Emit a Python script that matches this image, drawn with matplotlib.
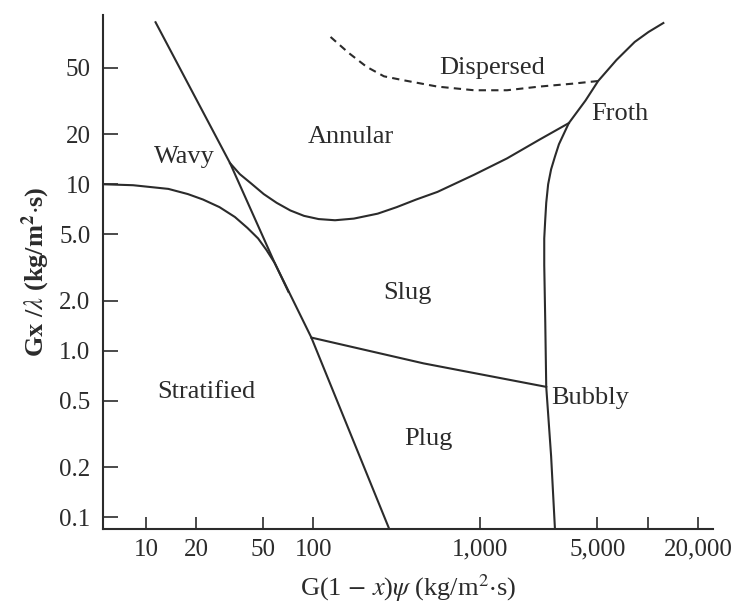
import matplotlib
matplotlib.use("Agg")
import matplotlib.pyplot as plt

plt.rcParams['font.family'] = ['Liberation Serif', 'DejaVu Serif']
plt.rcParams['mathtext.fontset'] = 'stix'

# boundary curves (x = G(1-x)psi, y = Gx/lambda)
steep_x = [11.4, 31.8, 58.9, 97.5, 285]
steep_y = [94, 13.4, 3.36, 1.20, 0.085]

strat_x = [5.53, 8.36, 13.6, 17.8, 21.9, 27.5, 34.0, 40.4, 46.8, 52.6, 58.9, 71.1]
strat_y = [10.0, 9.87, 9.38, 8.73, 8.10, 7.29, 6.36, 5.47, 4.73, 4.02, 3.36, 2.26]

annular_x = [31.8, 36.4, 42.6, 50.6, 60.4, 73.0, 88.1, 107.7, 135, 175, 243,
             316, 412, 554, 916, 1443, 2249, 3381]
annular_y = [13.4, 11.5, 10.1, 8.73, 7.74, 6.96, 6.46, 6.18, 6.08, 6.22, 6.66,
             7.29, 8.09, 9.0, 11.4, 14.3, 18.5, 23.3]

froth_x = [12430, 10140, 8380, 6520, 5063, 4251, 3381, 2951, 2795, 2649, 2543,
           2477, 2442, 2410, 2410, 2444, 2477, 2649, 2793]
froth_y = [93.0, 82.2, 71.6, 55.8, 41.7, 31.8, 23.3, 17.4, 14.7, 12.3, 10.0,
           7.74, 6.08, 4.73, 3.27, 1.486, 0.607, 0.233, 0.085]

disp_x = [127, 163, 209, 265, 340, 554, 916, 1443, 2249, 3565, 5063]
disp_y = [76.7, 61.5, 50.7, 44.5, 42.3, 38.6, 36.7, 36.7, 38.6, 40.2, 41.7]

plug_x = [97.5, 457, 2477]
plug_y = [1.20, 0.84, 0.607]

regions = ["Dispersed", "Froth", "Annular", "Wavy", "Slug", "Stratified", "Plug", "Bubbly"]
region_x = [1180, 6860, 168, 17.0, 367, 22.9, 492, 4550]
region_y = [50.0, 26.5, 19.2, 14.5, 2.23, 0.566, 0.295, 0.521]

xticks = [10, 20, 50, 100, 1000, 5000, 10000, 20000]
xlabels = ["10", "20", "50", "100", "1,000", "5,000", "", "20,000"]
yticks = [0.1, 0.2, 0.5, 1.0, 2.0, 5.0, 10, 20, 50]
ylabels = ["0.1", "0.2", "0.5", "1.0", "2.0", "5.0", "10", "20", "50"]

ink = "#2b2b2b"

fig = plt.figure(figsize=(7.38, 6.12), dpi=100)
ax = fig.add_axes([0.1396, 0.1356, 0.8264, 0.84])
ax.set_xscale("log")
ax.set_yscale("log")
ax.set_xlim(5.53, 24600)
ax.set_ylim(0.085, 104)

lw = 1.5
ax.plot(steep_x, steep_y, color=ink, lw=lw)
ax.plot(strat_x, strat_y, color=ink, lw=lw)
ax.plot(annular_x, annular_y, color=ink, lw=lw)
ax.plot(froth_x, froth_y, color=ink, lw=lw)
ax.plot(plug_x, plug_y, color=ink, lw=lw)
ax.plot(disp_x, disp_y, color=ink, lw=lw, ls=(0, (3.5, 2.5)))

for name, x, y in zip(regions, region_x, region_y):
    ax.text(x, y, name, ha="center", va="center", fontsize=19, color=ink)

ax.set_xticks(xticks)
ax.set_xticklabels(xlabels)
ax.set_yticks(yticks)
ax.set_yticklabels(ylabels)
ax.minorticks_off()
ax.tick_params(axis="x", direction="in", length=9, width=1.2, pad=7,
               labelsize=18, colors=ink)
ax.tick_params(axis="y", direction="in", length=11, width=1.2, pad=9,
               labelsize=18, colors=ink)

for s in ["top", "right"]:
    ax.spines[s].set_visible(False)
for s in ["left", "bottom"]:
    ax.spines[s].set_linewidth(1.5)
    ax.spines[s].set_color(ink)

ax.set_xlabel(r"G(1 $-$ $x$)$\psi$ (kg/m$^2$$\cdot$s)", fontsize=19, color=ink, labelpad=8)
ax.set_ylabel(r"G$\mathbf{x}$ /$\lambda$ (kg/m$^\mathbf{2}$$\cdot$s)", fontsize=19, color=ink,
              fontweight="bold", labelpad=5)

fig.savefig("out.png", dpi=100)
